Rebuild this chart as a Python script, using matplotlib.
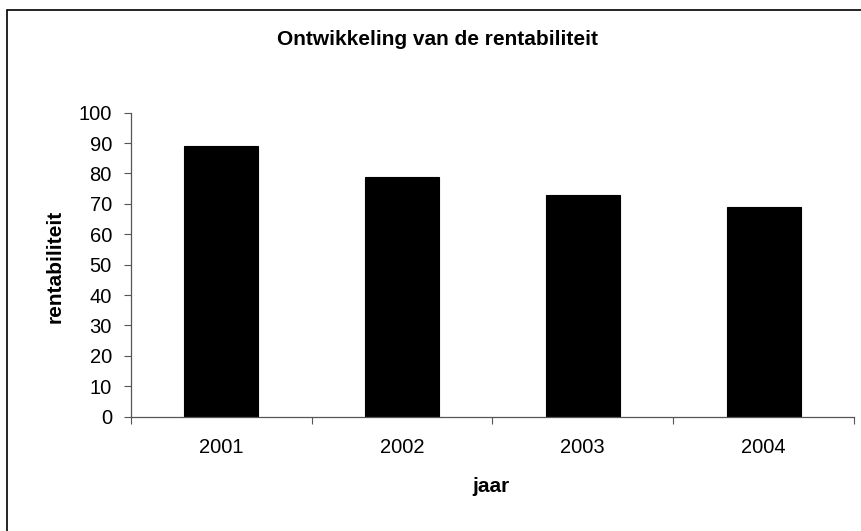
import matplotlib.pyplot as plt
from matplotlib.patches import Rectangle

plt.rcParams['font.family'] = ['Liberation Sans', 'DejaVu Sans']

jaren = ['2001', '2002', '2003', '2004']
rentabiliteit = [89, 79, 73, 69]

fig = plt.figure(figsize=(8.62, 5.31), dpi=100)
ax = fig.add_axes([0.1516, 0.2153, 0.8391, 0.5725])

x = range(len(jaren))
ax.bar(x, rentabiliteit, width=0.41, color='black', edgecolor='black', linewidth=0.8)

ax.set_xlim(-0.5, len(jaren) - 0.5)
ax.set_ylim(0, 100)
ax.set_yticks(range(0, 101, 10))

# ticks between the categories, labels under the bars
ax.set_xticks([i - 0.5 for i in range(len(jaren) + 1)])
ax.set_xticklabels([])
ax.set_xticks(list(x), minor=True)
ax.set_xticklabels(jaren, minor=True)
ax.tick_params(axis='x', which='minor', length=0, pad=15.5, labelsize=14.5)
ax.tick_params(axis='x', which='major', length=5, width=0.8, color='#555555')
ax.tick_params(axis='y', length=5, width=0.8, color='#555555', labelsize=14.5, pad=8.5)

for side in ['top', 'right']:
    ax.spines[side].set_visible(False)
for side in ['left', 'bottom']:
    ax.spines[side].set_color('#555555')
    ax.spines[side].set_linewidth(0.9)

fig.text(0.507, 0.9153, 'Ontwikkeling van de rentabiliteit', ha='center', va='baseline',
         fontsize=15, fontweight='bold')
fig.text(0.5696, 0.0734, 'jaar', ha='center', va='baseline', fontsize=15, fontweight='bold')
fig.text(0.0638, 0.499, 'rentabiliteit', ha='center', va='center', rotation=90,
         fontsize=15, fontweight='bold')

# frame around the chart area
fig.patches.append(Rectangle((7 / 862, -0.05), 1.1, 1 - 10 / 531 + 0.05,
                             transform=fig.transFigure, fill=False,
                             edgecolor='black', linewidth=1.2))

fig.savefig('out.png', dpi=100)
